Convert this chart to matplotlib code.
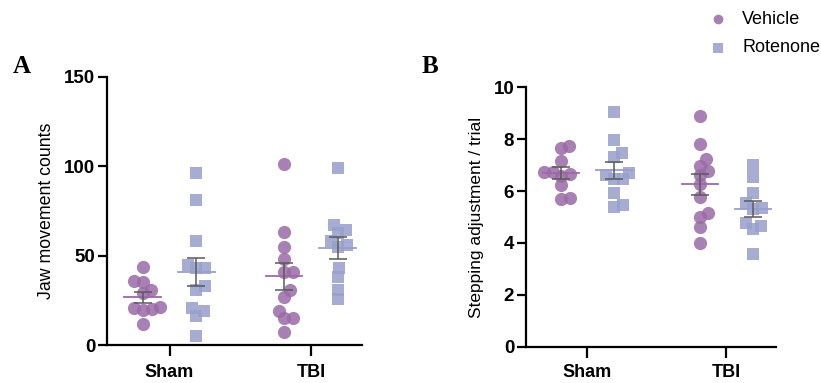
import numpy as np
import matplotlib.pyplot as plt

plt.rcParams['font.family'] = ['Liberation Sans', 'DejaVu Sans']

groups = ["Sham", "TBI"]

# Panel A: jaw movement counts
jaw_vehicle = {
    "Sham": [43.5, 36, 35, 31, 29, 21.5, 20.5, 20, 19.5, 12],
    "TBI": [101, 63, 55, 48, 41, 41, 31, 27, 19, 15, 15, 7],
}
jaw_rotenone = {
    "Sham": [96, 81, 58, 45, 43, 43, 33, 31, 20.5, 19, 16, 5],
    "TBI": [99, 67, 64.5, 62.5, 58, 56, 55, 43, 38, 31, 25.5],
}

# Panel B: stepping adjustment / trial
step_vehicle = {
    "Sham": [7.75, 7.65, 7.15, 6.75, 6.75, 6.65, 6.6, 6.25, 5.75, 5.7],
    "TBI": [8.9, 7.8, 7.22, 6.97, 6.79, 6.62, 6.26, 5.78, 5.14, 4.99, 4.63, 3.99],
}
step_rotenone = {
    "Sham": [9.05, 7.97, 7.48, 7.33, 6.7, 6.62, 6.47, 6.47, 5.91, 5.46, 5.4],
    "TBI": [7.0, 6.55, 5.91, 5.53, 5.34, 5.3, 4.78, 4.66, 4.54, 3.57],
}

veh_color = '#9a6aa6'
rot_color = '#989fcb'
err_color = '#5a5a5a'


def swarm_offsets(values, ax, d=9):
    # simple beeswarm: offsets in pixels, converted back to data x units
    ys = ax.transData.transform(np.column_stack([np.zeros(len(values)), values]))[:, 1]
    order = np.argsort(ys)
    placed = []
    offs = np.zeros(len(values))
    for i in order:
        y = ys[i]
        cands = [0.0]
        for (px, py) in placed:
            dy = abs(y - py)
            if dy < d:
                dx = np.sqrt(d ** 2 - dy ** 2)
                cands += [px + dx, px - dx]
        cands.sort(key=abs)
        for c in cands:
            if all((c - px) ** 2 + (y - py) ** 2 >= d ** 2 - 1e-6 for px, py in placed):
                offs[i] = c
                placed.append((c, y))
                break
    x0 = ax.transData.transform((0, 0))[0]
    x1 = ax.transData.transform((1, 0))[0]
    return offs / (x1 - x0)


def draw_panel(ax, vehicle, rotenone, ylim, yticks, ylabel, lsize, xpad):
    ax.set_xlim(-0.44, 1.36)
    ax.set_ylim(*ylim)
    ax.set_yticks(yticks)
    ax.set_xticks(range(len(groups)))
    ax.set_xticklabels(groups, fontweight='bold', fontsize=13)
    for lab in ax.get_yticklabels():
        lab.set_fontweight('bold')
        lab.set_fontsize(13.5)
    ax.set_ylabel(ylabel, fontsize=lsize, labelpad=7)
    for s in ['top', 'right']:
        ax.spines[s].set_visible(False)
    for s in ['left', 'bottom']:
        ax.spines[s].set_linewidth(1.6)
    ax.tick_params(width=1.6, length=6.5, pad=2)
    ax.tick_params(axis='x', length=8, pad=xpad)

    for gi, g in enumerate(groups):
        for data, shift, color, marker, ms in [
            (vehicle[g], -0.19, veh_color, 'o', 9.5),
            (rotenone[g], 0.19, rot_color, 's', 8.5),
        ]:
            vals = np.array(data)
            xs = gi + shift + swarm_offsets(vals, ax)
            ax.plot(xs, vals, linestyle='none', marker=marker, ms=ms,
                    color=color, alpha=0.85, markeredgewidth=0, zorder=2)
            m = vals.mean()
            sem = vals.std(ddof=1) / np.sqrt(len(vals))
            ax.plot([gi + shift - 0.13, gi + shift + 0.13], [m, m],
                    color=color, lw=1.3, zorder=3)
            ax.errorbar(gi + shift, m, yerr=sem, color=err_color, lw=1.1,
                        capsize=6.5, capthick=1.1, zorder=4)


fig = plt.figure(figsize=(8.21, 3.83), dpi=100)
axA = fig.add_axes([0.1307, 0.0992, 0.31, 0.7])
axB = fig.add_axes([0.6407, 0.0948, 0.305, 0.677])

draw_panel(axA, jaw_vehicle, jaw_rotenone, (0, 150), [0, 50, 100, 150],
           'Jaw movement counts', 12.8, 6)
draw_panel(axB, step_vehicle, step_rotenone, (0, 10), [0, 2, 4, 6, 8, 10],
           'Stepping adjustment / trial', 12.5, 4.5)

fig.text(0.015, 1 - 73 / 383, 'A', family='Liberation Serif', fontweight='bold', fontsize=18)
fig.text(0.514, 1 - 73 / 383, 'B', family='Liberation Serif', fontweight='bold', fontsize=18)

# legend
fig.lines.append(plt.Line2D([0.874], [1 - 19 / 383], marker='o', ms=7, color=veh_color,
                            alpha=0.85, markeredgewidth=0, transform=fig.transFigure))
fig.lines.append(plt.Line2D([0.874], [1 - 48 / 383], marker='s', ms=6.5, color=rot_color,
                            alpha=0.85, markeredgewidth=0, transform=fig.transFigure))
fig.text(0.904, 1 - 19 / 383, 'Vehicle', fontsize=13, va='center')
fig.text(0.904, 1 - 48 / 383, 'Rotenone', fontsize=13, va='center')

fig.savefig('out.png', dpi=100)
